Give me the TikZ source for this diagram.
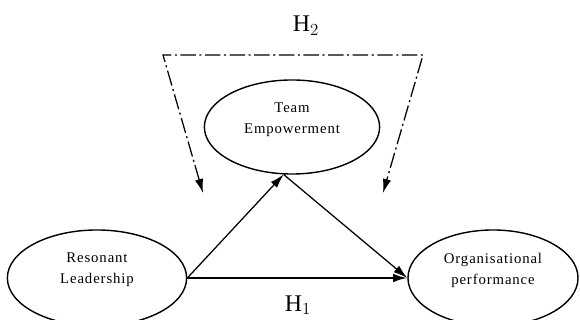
\documentclass[tikz,border=0pt]{standalone}
\usepackage{fontspec}
\setmainfont{Liberation Serif}
\newfontfamily\ovalfont[LetterSpace=6]{Liberation Serif}
\usetikzlibrary{arrows.meta, shapes.geometric}

\begin{document}
\begin{tikzpicture}[x=0.025cm, y=-0.025cm,
    oval/.style={draw, ellipse, line width=1pt, inner sep=0pt},
    ovaltext/.style={align=center, font=\ovalfont\fontsize{10.5}{15}\selectfont},
    link/.style={line width=0.9pt, -{Latex[length=10pt, width=6pt]}},
    dashdot/.style={line width=0.9pt, dash pattern=on 11pt off 2.5pt on 1.5pt off 2.5pt}]
    \useasboundingbox (0,0) rectangle (580,320);

    % Konstrukte
    \node[oval, minimum width=4.48cm, minimum height=2.4cm] (rl) at (97,278) {};
    \node[oval, minimum width=4.38cm, minimum height=2.35cm] (te) at (292,127) {};
    \node[oval, minimum width=4.25cm, minimum height=2.4cm] (op) at (493,278) {};
    \node[ovaltext] (rltext) at (97,270) {Resonant\\Leadership};
    \node[ovaltext] (tetext) at (292,120) {Team\\Empowerment};
    \node[ovaltext] (optext) at (493,270) {Organisational\\performance};

    % Pfade
    \draw[link] (rl.east) -- (te.-100);
    \draw[link] (te.-100) -- (op.west);
    \draw[link, line width=1.4pt] (rl.east) -- (op.west);

    % Moderation
    \coordinate (ltop) at (163,55);
    \coordinate (rtop) at (423,55);
    \coordinate (lend) at (203,193);
    \coordinate (rend) at (383,193);
    \draw[dashdot, {Latex[length=10pt, width=6pt]}-{Latex[length=10pt, width=6pt]}]
        (lend) -- (ltop) -- (rtop) -- (rend);

    % Hypothesen
    \node[font=\fontsize{17}{19}\selectfont] (h2) at (306,26) {H$_2$};
    \node[font=\fontsize{17}{19}\selectfont] (h1) at (298,305) {H$_1$};
\end{tikzpicture}
\end{document}
